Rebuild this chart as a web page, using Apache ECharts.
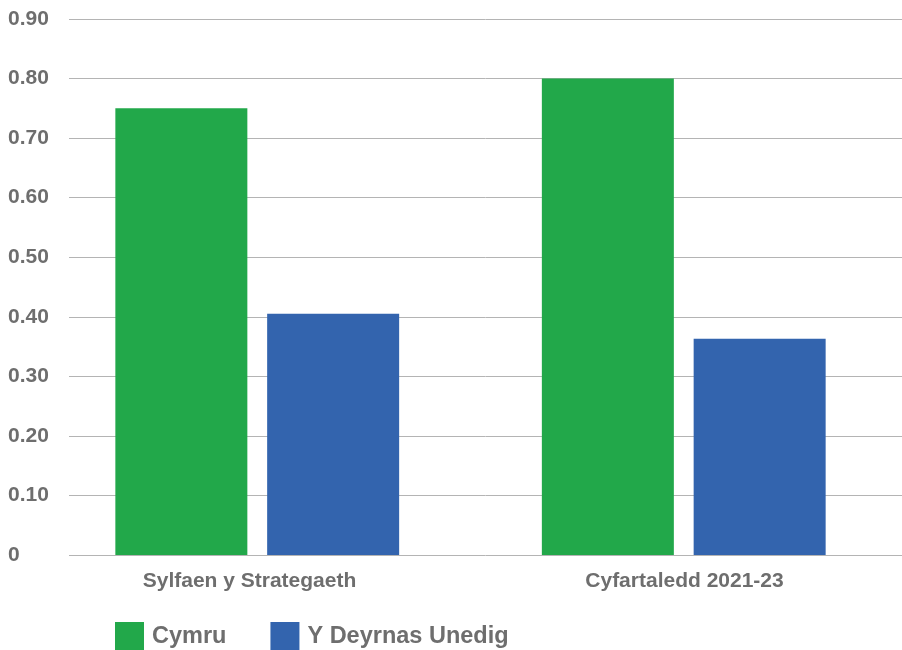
<!DOCTYPE html>
<html>
<head>
<meta charset="utf-8">
<script src="https://cdn.jsdelivr.net/npm/echarts@6/dist/echarts.min.js"></script>
<style>
html,body{margin:0;padding:0;background:#fff;}
#chart{width:902px;height:650px;}
</style>
</head>
<body>
<div id="chart"></div>
<script>
const categories = ['Sylfaen y Strategaeth', 'Cyfartaledd 2021-23'];
const seriesNames = ['Cymru', 'Y Deyrnas Unedig'];
const cymru = [0.75, 0.80];
const deyrnas = [0.405, 0.363];

const font = '"Liberation Sans", Arial, Helvetica, sans-serif';
const grey = '#6e6e6e';

const chart = echarts.init(document.getElementById('chart'), null, {renderer: 'canvas'});
chart.setOption({
  animation: false,
  backgroundColor: '#ffffff',
  grid: [
    {left: 69, right: 0, top: 19, bottom: 95},
    {left: 44, right: 5, top: 19, bottom: 95},
    {left: 32, right: -6, top: 19, bottom: 95}
  ],
  legend: {
    data: seriesNames,
    left: 115,
    top: 622,
    padding: 0,
    icon: 'rect',
    itemWidth: 29,
    itemHeight: 29,
    itemGap: 44,
    textStyle: {fontFamily: font, fontWeight: 'bold', fontSize: 23.5, color: grey, padding: [0, 0, 0, 3]}
  },
  xAxis: [
    {gridIndex: 0, type: 'category', data: categories, show: false},
    {gridIndex: 1, type: 'category', data: categories, show: false},
    {
      gridIndex: 2, type: 'category', data: categories,
      axisLine: {show: false}, axisTick: {show: false},
      axisLabel: {margin: 16, fontFamily: font, fontWeight: 'bold', fontSize: 21, color: grey}
    }
  ],
  yAxis: [
    {
      gridIndex: 0, type: 'value', min: 0, max: 0.9, interval: 0.1,
      axisLine: {show: false}, axisTick: {show: false},
      splitLine: {lineStyle: {color: '#b4b4b4', width: 1}},
      axisLabel: {
        align: 'left', margin: 61,
        fontFamily: font, fontWeight: 'bold', fontSize: 21, color: grey,
        formatter: v => (v === 0 ? '0' : v.toFixed(2))
      }
    },
    {gridIndex: 1, type: 'value', min: 0, max: 0.9, interval: 0.1, show: false, splitLine: {show: false}},
    {gridIndex: 2, type: 'value', min: 0, max: 0.9, interval: 0.1, show: false, splitLine: {show: false}}
  ],
  series: [
    {name: seriesNames[0], type: 'bar', xAxisIndex: 1, yAxisIndex: 1, data: cymru,
     barWidth: 132, barGap: '15%', itemStyle: {color: '#22a84a'}},
    {name: seriesNames[1], type: 'bar', xAxisIndex: 1, yAxisIndex: 1, data: deyrnas,
     barWidth: 132, barGap: '15%', itemStyle: {color: '#3364ae'}}
  ]
});
</script>
</body>
</html>
